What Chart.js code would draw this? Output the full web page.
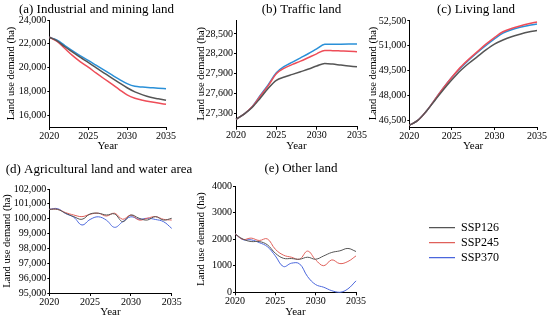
<!DOCTYPE html>
<html><head><meta charset="utf-8">
<script src="https://cdn.jsdelivr.net/npm/chart.js@4"></script>
<style>
html,body{margin:0;padding:0;background:#fff;width:550px;height:320px;overflow:hidden;position:relative}
canvas{position:absolute}
</style></head><body>
<canvas id="ca"></canvas><canvas id="cb"></canvas><canvas id="cc"></canvas>
<canvas id="cd"></canvas><canvas id="ce"></canvas><canvas id="cl"></canvas>
<script>
// ---------- data ----------
const years = [2020,2021,2022,2023,2024,2025,2026,2027,2028,2029,2030,2031,2032,2033,2034,2035];
const xTicks = [2020,2025,2030,2035];
const seriesNames = ['SSP126','SSP245','SSP370'];

const industrial126 = [22550,22250,21750,21300,20850,20430,19990,19560,19130,18710,18300,17950,17700,17500,17370,17250];
const industrial245 = [22550,22200,21600,21000,20480,20030,19550,19080,18620,18150,17700,17420,17250,17120,17010,16910];
const industrial370 = [22550,22300,21850,21400,20980,20600,20200,19800,19400,19000,18650,18420,18360,18310,18260,18220];
const industrialTicks = [16000,18000,20000,22000,24000];

const traffic126 = [27210,27290,27390,27530,27680,27800,27850,27890,27930,27970,28015,28055,28045,28030,28017,28004];
const traffic245 = [27210,27290,27400,27560,27720,27900,27985,28040,28090,28145,28200,28252,28248,28243,28238,28232];
const traffic370 = [27210,27290,27400,27570,27735,27915,28010,28075,28140,28205,28275,28343,28345,28346,28347,28348];
const trafficTicks = [27300,27600,27900,28200,28500];

const living126 = [46200,46500,47050,47700,48350,48950,49500,49950,50350,50750,51100,51350,51550,51700,51830,51920];
const living245 = [46200,46500,47050,47750,48450,49100,49700,50200,50650,51100,51500,51850,52050,52200,52330,52440];
const living370 = [46200,46500,47050,47750,48450,49100,49650,50150,50600,51020,51420,51770,51970,52120,52230,52320];
const livingTicks = [46500,48000,49500,51000,52500];

const agri126 = [100630,100630,100365,100140,99960,100320,100370,100250,100320,99800,100250,100030,99910,100140,99910,100030];
const agri245 = [100630,100630,100410,100250,100140,100300,100370,100180,100370,99960,100250,99910,100030,100140,99960,99910];
const agri370 = [100630,100680,100350,100100,99580,99950,100130,99900,99420,99800,100130,99960,100030,99950,99800,99350];
const agriTicks = [95000,96000,97000,98000,99000,100000,101000,102000];

const other126 = [2200,2000,1910,1910,1790,1470,1280,1270,1245,1320,1245,1370,1500,1560,1650,1535];
const other245 = [2200,1990,2040,1950,2010,1620,1400,1320,1245,1550,1220,1000,1220,1080,1160,1370];
const other370 = [2200,1980,1975,1870,1720,1370,970,1095,1070,590,290,190,60,0,130,430];
const otherTicks = [0,1000,2000,3000,4000];

// ---------- styling ----------
const FONT = "'Liberation Serif','Times New Roman',serif";
Chart.defaults.font.family = FONT;
Chart.defaults.color = '#000';
const colorsTop = ['#555555','#ee4d58','#2a90d8'];
const colorsBottom = ['#555555','#e0605a','#4a66dc'];

function pts(vals){ return years.map((x,i)=>({x:x, y:vals[i]})); }

function panel(id, g, title, yMin, yMax, yTicks, yFmt, series, colors, lw, smooth){
  const L = g.L, T = Math.floor(g.cy - 9);
  const W = Math.round(2*(g.cx - L));
  const H = Math.round(g.xty + 9 - T);
  const R = L + W - g.x2;
  const yWidth = g.x1 - L;
  const xHeight = T + H - g.y2;
  const cv = document.getElementById(id);
  cv.width = W; cv.height = H;
  cv.style.left = L + 'px'; cv.style.top = T + 'px';
  const tlh = 13*1.2;
  const tTop = g.cy - T - tlh/2;
  const tBot = g.y1 - T - tlh - tTop;
  const ylh = 10.5*1.2, xlh = 11*1.2;
  new Chart(cv, {
    type: 'line',
    data: { datasets: series.map((s,i)=>({
      label: seriesNames[i], data: pts(s), borderColor: colors[i], backgroundColor: colors[i],
      borderWidth: lw, pointRadius: 0, fill: false, clip: 4,
      tension: smooth === 'monotone' ? 0 : 0.4,
      cubicInterpolationMode: smooth === 'monotone' ? 'monotone' : 'default'
    })) },
    options: {
      responsive: false, animation: false, devicePixelRatio: 1,
      layout: { padding: 0 },
      plugins: {
        legend: { display: false }, tooltip: { enabled: false },
        title: { display: true, text: title, color: '#000',
          font: { family: FONT, size: 13, weight: 'normal', lineHeight: 1.2 },
          padding: { top: tTop, bottom: tBot } }
      },
      scales: {
        x: { type: 'linear', min: 2020, max: 2035,
          border: { display: true, color: '#000', width: 1 },
          grid: { display: true, drawOnChartArea: false, drawTicks: true, tickLength: 3, color: '#000' },
          ticks: { font: { size: 10, family: FONT }, color: '#000', padding: 0, maxRotation: 0,
            autoSkip: false, callback: v => String(v) },
          title: { display: true, text: 'Year', color: '#000',
            font: { size: 11, family: FONT, lineHeight: 1.2 },
            padding: { top: 0, bottom: 9 - xlh/2 } },
          afterBuildTicks: s => { s.ticks = xTicks.map(v => ({ value: v })); },
          afterFit: s => { s.height = xHeight; s.paddingLeft = 0; s.paddingRight = R; }
        },
        y: { type: 'linear', min: yMin, max: yMax,
          border: { display: true, color: '#000', width: 1 },
          grid: { display: true, drawOnChartArea: false, drawTicks: true, tickLength: 2, color: '#000' },
          ticks: { font: { size: 10, family: FONT }, color: '#000', padding: 1, autoSkip: false, callback: yFmt },
          title: { display: true, text: 'Land use demand (ha)', color: '#000',
            font: { size: 10.5, family: FONT, lineHeight: 1.2 },
            padding: { top: (g.ytx - L) - ylh/2, bottom: 0 } },
          afterBuildTicks: s => { s.ticks = yTicks.map(v => ({ value: v })); },
          afterFit: s => { s.width = yWidth; s.paddingTop = 0; s.paddingBottom = 0; }
        }
      }
    }
  });
}

const comma = v => Number(v).toLocaleString('en-US');
const plain = v => String(v);

panel('ca', {L:0, x1:49.3, x2:166, y1:20, y2:127, cx:96.7, cy:10, ytx:11, xty:146},
  '(a) Industrial and mining land', 15000, 24000, industrialTicks, comma,
  [industrial126, industrial245, industrial370], colorsTop, 1.5, 'monotone');
panel('cb', {L:192, x1:236, x2:357, y1:20.7, y2:126.7, cx:301.7, cy:10, ytx:201.7, xty:146},
  '(b) Traffic land', 27100, 28700, trafficTicks, comma,
  [traffic126, traffic245, traffic370], colorsTop, 1.5, 'monotone');
panel('cc', {L:364, x1:409.3, x2:537, y1:20, y2:127, cx:476, cy:10, ytx:373.3, xty:146},
  '(c) Living land', 46100, 52560, livingTicks, comma,
  [living126, living245, living370], colorsTop, 1.5, 'monotone');
panel('cd', {L:0, x1:49.3, x2:171.7, y1:189, y2:293, cx:99, cy:170, ytx:7.3, xty:311.7},
  '(d) Agricultural land and water area', 95000, 102000, agriTicks, comma,
  [agri126, agri245, agri370], colorsBottom, 1, 'spline');
panel('ce', {L:192, x1:235, x2:356, y1:186, y2:292.3, cx:300.8, cy:168.3, ytx:201.7, xty:311.7},
  '(e) Other land', 0, 4000, otherTicks, plain,
  [other126, other245, other370], colorsBottom, 1, 'spline');

// ---------- legend ----------
(function(){
  const cv = document.getElementById('cl');
  cv.width = 110; cv.height = 100;
  cv.style.left = '410px'; cv.style.top = '215px';
  new Chart(cv, {
    type: 'line',
    data: { datasets: seriesNames.map((n,i)=>({ label: n, data: [], borderColor: colorsBottom[i],
      backgroundColor: colorsBottom[i], borderWidth: 1.2, pointStyle: 'line' })) },
    options: {
      responsive: false, animation: false, devicePixelRatio: 1,
      layout: { padding: { left: 16, top: 3.7 } },
      scales: { x: { display: false }, y: { display: false } },
      plugins: {
        tooltip: { enabled: false },
        legend: { display: true, position: 'top', align: 'start', maxHeight: 80,
          labels: { usePointStyle: true, pointStyle: 'line', pointStyleWidth: 26, padding: 3,
            color: '#000', font: { size: 12, family: FONT } } }
      }
    }
  });
})();
</script>
</body></html>
